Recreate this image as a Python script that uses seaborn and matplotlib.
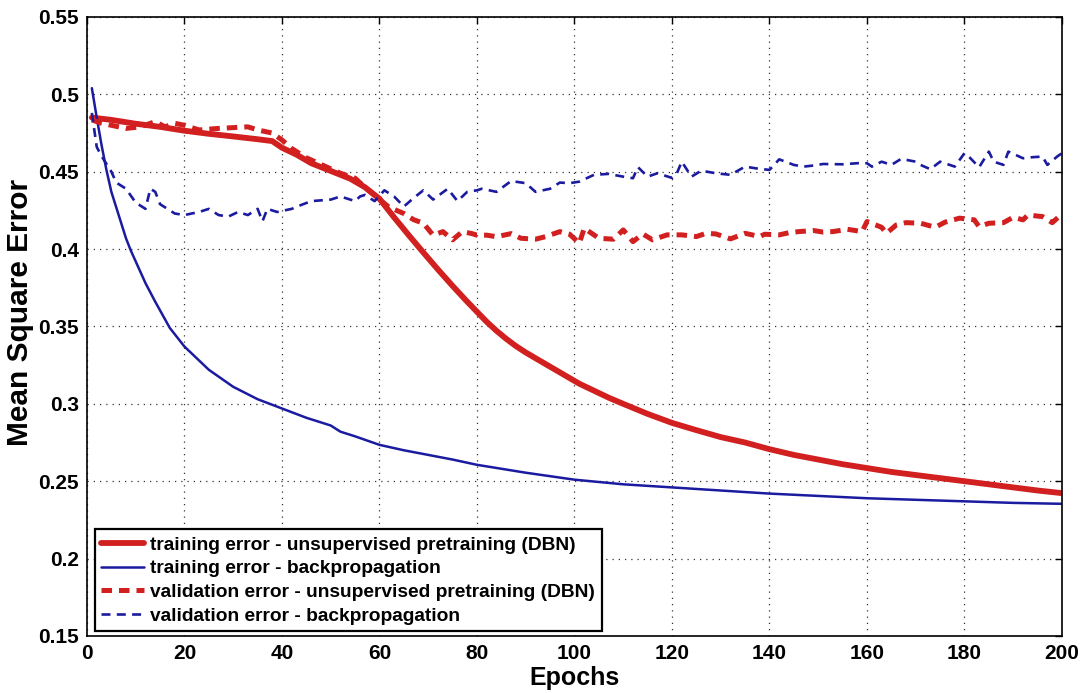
import matplotlib
matplotlib.use("Agg")
import matplotlib.pyplot as plt
import seaborn as sns
import numpy as np

# ---- data ----
dbn_train_epochs = [1, 5, 10, 15, 20, 25, 30, 35, 38, 40, 43, 46, 50, 54, 57, 60, 63, 66,
                    69, 72, 75, 78, 80, 82, 84, 86, 88, 90, 92, 95, 98, 101, 104, 107, 110,
                    115, 120, 125, 130, 135, 140, 145, 150, 155, 160, 165, 170, 175, 180,
                    185, 190, 195, 200]
dbn_train_mse = [0.485, 0.4835, 0.481, 0.479, 0.4765, 0.4745, 0.4728, 0.471, 0.4698, 0.4655,
                 0.461, 0.4555, 0.4505, 0.4455, 0.440, 0.4325, 0.4205, 0.4090, 0.3978,
                 0.3868, 0.3762, 0.3660, 0.3595, 0.3530, 0.3472, 0.3420, 0.3373, 0.3332,
                 0.3295, 0.3240, 0.3185, 0.3130, 0.3085, 0.3040, 0.3000, 0.2935, 0.2877,
                 0.283, 0.2785, 0.275, 0.2707, 0.267, 0.264, 0.261, 0.2585, 0.256, 0.254,
                 0.252, 0.250, 0.248, 0.246, 0.244, 0.2423]

bp_train_epochs = [1, 2, 3, 4, 5, 6, 7, 8, 9, 10, 12, 14, 17, 20, 25, 30, 35, 40, 45, 48,
                   50, 52, 55, 60, 65, 70, 75, 80, 90, 100, 110, 120, 130, 140, 150, 160,
                   170, 180, 190, 200]
bp_train_mse = [0.504, 0.485, 0.467, 0.451, 0.437, 0.427, 0.417, 0.407, 0.399, 0.392,
                0.378, 0.366, 0.349, 0.337, 0.322, 0.311, 0.303, 0.297, 0.291, 0.288,
                0.286, 0.282, 0.279, 0.2735, 0.270, 0.267, 0.264, 0.2606, 0.2555, 0.251,
                0.248, 0.246, 0.244, 0.242, 0.2405, 0.239, 0.238, 0.237, 0.236, 0.2354]

dbn_val_epochs = [1, 3, 5, 8, 11, 14, 16, 18, 20, 23, 27, 30, 33, 35, 38, 40, 42, 45, 49,
                  52, 55, 57, 60, 62, 65, 67, 69, 71, 73, 75, 77, 79, 80, 82, 84, 87, 89,
                  92, 94, 97, 99, 101, 102, 105, 108, 110, 112, 114, 116, 119, 122, 125,
                  127, 129, 132, 135, 138, 139, 142, 144, 146, 149, 151, 153, 156, 159,
                  160, 163, 164, 166, 168, 171, 174, 176, 179, 182, 183, 185, 188, 190,
                  192, 193, 196, 198, 200]
dbn_val_mse = [0.4835, 0.4813, 0.480, 0.478, 0.479, 0.4824, 0.479, 0.4813, 0.480, 0.477,
               0.478, 0.4785, 0.479, 0.477, 0.475, 0.4705, 0.465, 0.459, 0.4533, 0.449,
               0.4458, 0.440, 0.432, 0.427, 0.423, 0.419, 0.4167, 0.409, 0.4113, 0.406,
               0.4113, 0.410, 0.409, 0.409, 0.408, 0.410, 0.407, 0.4064, 0.408, 0.4113,
               0.4096, 0.4038, 0.4135, 0.407, 0.4064, 0.4124, 0.4048, 0.4098, 0.406,
               0.4092, 0.4092, 0.4081, 0.4102, 0.4098, 0.4066, 0.4102, 0.4081, 0.4096,
               0.4092, 0.4106, 0.4113, 0.412, 0.411, 0.4113, 0.4128, 0.4113, 0.4178,
               0.4141, 0.4102, 0.4156, 0.4171, 0.4167, 0.4141, 0.4174, 0.420, 0.4189,
               0.4145, 0.4167, 0.4171, 0.4206, 0.4189, 0.422, 0.421, 0.4171, 0.4227]

bp_val_epochs = [1, 2, 3, 5, 6, 8, 10, 12, 13, 14, 15, 18, 20, 23, 25, 27, 29, 31, 33, 35,
                 36, 37, 39, 42, 44, 46, 50, 52, 55, 56, 57, 59, 61, 63, 65, 67, 69, 71,
                 74, 76, 78, 80, 81, 84, 87, 90, 92, 95, 97, 99, 101, 104, 107, 110, 112,
                 113, 115, 117, 120, 121, 122, 124, 126, 129, 132, 135, 138, 140, 142,
                 145, 147, 149, 151, 155, 158, 160, 161, 163, 165, 167, 170, 171, 173,
                 175, 178, 180, 181, 183, 185, 186, 188, 189, 192, 194, 196, 197, 199, 200]
bp_val_mse = [0.488, 0.466, 0.460, 0.450, 0.443, 0.439, 0.430, 0.426, 0.439, 0.437, 0.429,
              0.423, 0.422, 0.424, 0.426, 0.422, 0.421, 0.424, 0.422, 0.426, 0.418, 0.426,
              0.424, 0.426, 0.4286, 0.431, 0.432, 0.434, 0.431, 0.434, 0.435, 0.431, 0.438,
              0.434, 0.4275, 0.433, 0.438, 0.432, 0.439, 0.431, 0.437, 0.438, 0.439, 0.437,
              0.444, 0.4426, 0.437, 0.439, 0.443, 0.4426, 0.4436, 0.448, 0.4486, 0.4468,
              0.4458, 0.453, 0.4468, 0.449, 0.446, 0.449, 0.4565, 0.4468, 0.4507, 0.449,
              0.448, 0.4533, 0.4518, 0.4512, 0.458, 0.4544, 0.4533, 0.454, 0.455, 0.4548,
              0.4555, 0.4555, 0.4533, 0.4565, 0.4544, 0.4583, 0.4565, 0.4544, 0.4516,
              0.4565, 0.4533, 0.462, 0.4594, 0.4529, 0.463, 0.4565, 0.4544, 0.463, 0.4587,
              0.4594, 0.4598, 0.4544, 0.4598, 0.462]

labels = ["training error - unsupervised pretraining (DBN)",
          "training error - backpropagation",
          "validation error - unsupervised pretraining (DBN)",
          "validation error - backpropagation"]
x_ticks = [0, 20, 40, 60, 80, 100, 120, 140, 160, 180, 200]
y_ticks = [0.15, 0.2, 0.25, 0.3, 0.35, 0.4, 0.45, 0.5, 0.55]
y_tick_labels = ["0.15", "0.2", "0.25", "0.3", "0.35", "0.4", "0.45", "0.5", "0.55"]

RED = "#d21f1f"
BLUE = "#1b1ba0"

sns.set_style("white")
plt.rcParams['font.family'] = ['Liberation Sans', 'DejaVu Sans']
plt.rcParams['font.weight'] = 'bold'
for k in ['text.color', 'axes.labelcolor', 'xtick.color', 'ytick.color']:
    plt.rcParams[k] = 'black'

fig = plt.figure(figsize=(10.9, 6.93), dpi=100)
ax = fig.add_axes([0.0798, 0.0823, 0.8945, 0.8932])

sns.lineplot(x=dbn_train_epochs, y=dbn_train_mse, ax=ax, color=RED, lw=4.2,
             label=labels[0], estimator=None, sort=False)
sns.lineplot(x=bp_train_epochs, y=bp_train_mse, ax=ax, color=BLUE, lw=1.8,
             label=labels[1], estimator=None, sort=False)
l3 = sns.lineplot(x=dbn_val_epochs, y=dbn_val_mse, ax=ax, color=RED, lw=3.6,
                  label=labels[2], estimator=None, sort=False).lines[-1]
l3.set_dashes([2.1, 1.4])
l4 = sns.lineplot(x=bp_val_epochs, y=bp_val_mse, ax=ax, color=BLUE, lw=1.9,
                  label=labels[3], estimator=None, sort=False).lines[-1]
l4.set_dashes([3.4, 2.4])

ax.set_xlim(0, 200)
ax.set_ylim(0.15, 0.55)
ax.set_xticks(x_ticks)
ax.set_yticks(y_ticks)
ax.set_yticklabels(y_tick_labels)
ax.tick_params(direction='in', top=True, right=True, length=5, width=1,
               labelsize=15, pad=6, colors='black')
for lab in ax.get_xticklabels() + ax.get_yticklabels():
    lab.set_fontweight('bold')
ax.grid(True, linestyle=(0, (1, 4)), color='#333333', lw=0.9)
for s in ax.spines.values():
    s.set_color('black')
    s.set_linewidth(1.2)

ax.set_xlabel("Epochs", fontsize=18, fontweight='bold', labelpad=2, color='black')
ax.set_ylabel("Mean Square Error", fontsize=21.5, fontweight='bold', color='black')
ax.yaxis.set_label_coords(-0.054, 0.522)

leg = ax.legend(loc='lower left', bbox_to_anchor=(0.002, -0.002), fontsize=13.8,
                frameon=True, fancybox=False, edgecolor='black', framealpha=1,
                handlelength=2.2, handletextpad=0.35, borderpad=0.35, labelspacing=0.33,
                borderaxespad=0.3)
leg.get_frame().set_linewidth(1.6)
for t in leg.get_texts():
    t.set_fontweight('bold')
    t.set_color('black')

fig.savefig("out.png", dpi=100)
